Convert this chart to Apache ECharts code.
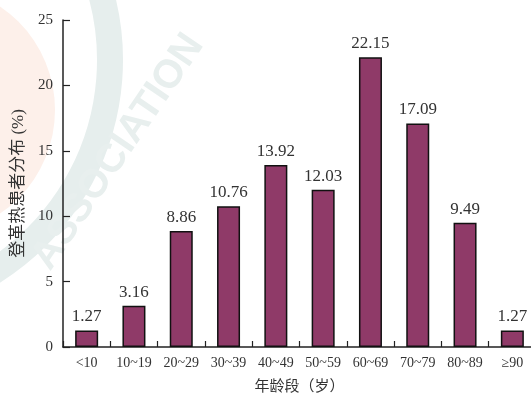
<!DOCTYPE html>
<html>
<head>
<meta charset="utf-8">
<script src="https://cdn.jsdelivr.net/npm/echarts@6/dist/echarts.min.js"></script>
<style>
  html, body { margin: 0; padding: 0; background: #fff; }
  #chart { width: 531px; height: 395px; }
</style>
</head>
<body>
<div id="chart"></div>
<script>
// age groups and share of dengue patients (%)
const ageGroups = ['<10', '10~19', '20~29', '30~39', '40~49', '50~59', '60~69', '70~79', '80~89', '≥90']
const percents = [1.27, 3.16, 8.86, 10.76, 13.92, 12.03, 22.15, 17.09, 9.49, 1.27]
const yTicks = [0, 5, 10, 15, 20, 25]

const serif = '"Liberation Serif", "Noto Sans CJK SC", serif'
const chart = echarts.init(document.getElementById('chart'))

chart.setOption({
  animation: false,
  backgroundColor: '#fff',
  // faint watermark of the source image
  graphic: [
    {
      type: 'circle', z: -20, silent: true,
      shape: { cx: -70, cy: 110, r: 125 },
      style: { fill: '#fdf0ea' }
    },
    {
      type: 'arc', z: -10, silent: true,
      shape: { cx: -140, cy: 60, r: 250, startAngle: -0.3, endAngle: 1.9 },
      style: { stroke: '#e6eeed', lineWidth: 26, fill: 'none' }
    },
    {
      type: 'text', z: -10, silent: true,
      x: 118, y: 152, rotation: Math.PI * 0.31,
      style: {
        text: 'ASSOCIATION', fill: '#e8efee',
        font: 'bold 40px "Liberation Sans", sans-serif',
        align: 'center', verticalAlign: 'middle'
      }
    }
  ],
  grid: { left: 63, right: -5, top: 20, bottom: 48, outerBoundsMode: 'none', containLabel: false },
  xAxis: {
    type: 'category',
    data: ageGroups,
    name: '年龄段（岁）',
    nameLocation: 'middle',
    nameGap: 33,
    nameTextStyle: { fontFamily: serif, fontSize: 15, color: '#333' },
    axisLine: { lineStyle: { color: '#222', width: 1.5 } },
    axisTick: { show: true, inside: true, length: 6, lineStyle: { color: '#222', width: 1.2 } },
    axisLabel: { fontFamily: serif, fontSize: 14, color: '#333', margin: 9 }
  },
  yAxis: {
    type: 'value',
    min: yTicks[0],
    max: yTicks[yTicks.length - 1],
    interval: 5,
    name: '登革热患者分布 (%)',
    nameLocation: 'middle',
    nameRotate: 90,
    nameGap: 34,
    nameTextStyle: { fontFamily: serif, fontSize: 17, color: '#333' },
    axisLine: { show: true, lineStyle: { color: '#222', width: 1.5 } },
    axisTick: { show: true, inside: true, length: 7, lineStyle: { color: '#222', width: 1.2 } },
    axisLabel: { fontFamily: serif, fontSize: 15, color: '#333', margin: 10 },
    splitLine: { show: false }
  },
  series: [
    {
      type: 'bar',
      data: percents,
      barWidth: 23,
      itemStyle: { color: '#8f3a68', borderColor: '#111', borderWidth: 1.5 },
      label: {
        show: true,
        position: 'top',
        distance: 5,
        fontFamily: serif,
        fontSize: 17,
        color: '#333',
        formatter: p => p.value.toFixed(2)
      }
    }
  ]
})
</script>
</body>
</html>
